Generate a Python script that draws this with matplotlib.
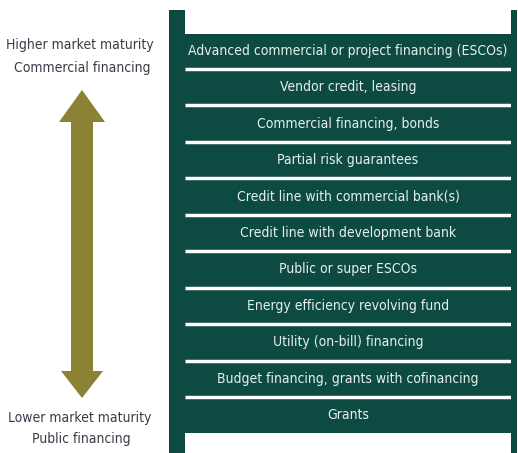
import matplotlib
matplotlib.use("Agg")
import matplotlib.pyplot as plt
import numpy as np
from matplotlib.patches import Rectangle, FancyArrow

# financing instruments, top (most mature) to bottom
instruments = [
    "Advanced commercial or project financing (ESCOs)",
    "Vendor credit, leasing",
    "Commercial financing, bonds",
    "Partial risk guarantees",
    "Credit line with commercial bank(s)",
    "Credit line with development bank",
    "Public or super ESCOs",
    "Energy efficiency revolving fund",
    "Utility (on-bill) financing",
    "Budget financing, grants with cofinancing",
    "Grants",
]
top_label = ["Higher market maturity", "Commercial financing"]
bottom_label = ["Lower market maturity", "Public financing"]

GREEN = "#0c4a42"
OLIVE = "#8b8233"
LIGHT = "#e8efec"
DARK_TXT = "#3b3b48"

plt.rcParams['font.family'] = ['DejaVu Sans']
TXT = dict(fontstretch="condensed", fontsize=10)

W, H = 518, 453
fig = plt.figure(figsize=(W / 100, H / 100), dpi=100)

# background axes in pixel units
bg = fig.add_axes([0, 0, 1, 1])
bg.set_xlim(0, W)
bg.set_ylim(H, 0)
bg.axis("off")

# dark frame with white notches top and bottom
bg.add_patch(Rectangle((169, 10), 347.5, H - 10, color=GREEN, lw=0))
bg.add_patch(Rectangle((185, 0), 326, 33.5, color="white", lw=0))
bg.add_patch(Rectangle((185, 432.5), 326, H - 432.5, color="white", lw=0))

# double arrow
bg.add_patch(FancyArrow(82, 250, 0, -160, width=22, head_width=46, head_length=32,
                        length_includes_head=True, color=OLIVE, lw=0))
bg.add_patch(FancyArrow(82, 240, 0, 158, width=22, head_width=42, head_length=27,
                        length_includes_head=True, color=OLIVE, lw=0))

bg.text(80, 45, top_label[0], ha="center", va="center", color=DARK_TXT, **TXT)
bg.text(82, 68, top_label[1], ha="center", va="center", color=DARK_TXT, **TXT)
bg.text(80, 418, bottom_label[0], ha="center", va="center", color=DARK_TXT, **TXT)
bg.text(81, 439, bottom_label[1], ha="center", va="center", color=DARK_TXT, **TXT)

# panel axes, one row per instrument
ax = fig.add_axes([185 / W, (H - 433.5) / H, 326 / W, 401 / H])
ax.patch.set_alpha(0)
n = len(instruments)
ax.set_xlim(0, 1)
ax.set_ylim(n - 0.5, -0.5)
ax.axis("off")
ax.hlines(np.arange(n - 1) + 0.5, 0, 1, color="white", lw=2.5)
for i, name in enumerate(instruments):
    ax.text(0.5, i, name, ha="center", va="center", color=LIGHT, **TXT)

fig.savefig("out.png", dpi=100)
